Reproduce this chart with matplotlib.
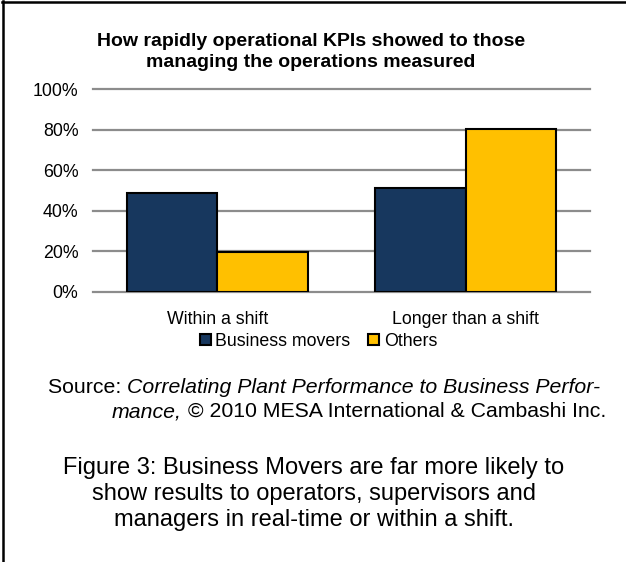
import matplotlib
matplotlib.use("Agg")
import matplotlib.pyplot as plt
import numpy as np
from matplotlib.lines import Line2D
from matplotlib.patches import Patch

plt.rcParams['font.family'] = ['Liberation Sans', 'DejaVu Sans']

categories = ["Within a shift", "Longer than a shift"]
business_movers = [49.0, 51.0]
others = [19.5, 80.5]
series_names = ["Business movers", "Others"]
yticks = [0, 20, 40, 60, 80, 100]

title_lines = ["How rapidly operational KPIs showed to those",
               "managing the operations measured"]
caption_lines = ["Figure 3: Business Movers are far more likely to",
                 "show results to operators, supervisors and",
                 "managers in real-time or within a shift."]

NAVY = "#17375E"
GOLD = "#FFC000"
GRID = "#8C8C8C"

W, H = 626, 562
def fx(px):
    return px / W
def fy(py):
    return 1 - py / H

fig = plt.figure(figsize=(W / 100, H / 100), dpi=100)
fig.patch.set_facecolor("white")

# plot area, in pixels: x 93..590, y 89..292
ax = fig.add_axes([fx(93), fy(292), fx(590) - fx(93), fy(89) - fy(292)])

x = np.arange(len(categories))
w = 0.364
ax.bar(x - w / 2, business_movers, w, color=NAVY, edgecolor="black", linewidth=1.5, zorder=3)
ax.bar(x + w / 2, others, w, color=GOLD, edgecolor="black", linewidth=1.5, zorder=3)

ax.set_xlim(-0.5, len(categories) - 0.5)
ax.set_ylim(0, 100)
ax.set_yticks(yticks)
ax.set_yticklabels([f"{v}%" for v in yticks])
ax.yaxis.grid(True, color=GRID, linewidth=1.6, zorder=0)
for gl in ax.get_ygridlines():
    gl.set_clip_on(False)
ax.set_axisbelow(True)
ax.set_xticks(x)
ax.set_xticklabels(categories)
ax.tick_params(axis="y", length=0, pad=10.5, labelsize=12.75, colors="black")
ax.tick_params(axis="x", length=0, pad=13.5, labelsize=12.75, colors="black")
for s in ax.spines.values():
    s.set_visible(False)

# title
fig.text(fx(311), fy(46), title_lines[0], ha="center", va="baseline", fontsize=14, fontweight="bold")
fig.text(fx(311), fy(67), title_lines[1], ha="center", va="baseline", fontsize=14, fontweight="bold")

# legend
handles = [Patch(facecolor=NAVY, edgecolor="black", linewidth=1.5, label=series_names[0]),
           Patch(facecolor=GOLD, edgecolor="black", linewidth=1.5, label=series_names[1])]
fig.legend(handles=handles, loc="center", bbox_to_anchor=(fx(318.5), fy(341)), ncol=2,
           frameon=False, fontsize=12.75, handlelength=0.62, handleheight=0.62,
           handletextpad=0.25, columnspacing=1.0, borderpad=0, borderaxespad=0)

# source, mixed upright / italic
src_fs = 15.3
t1 = fig.text(fx(48), fy(393), "Source: ", ha="left", va="baseline", fontsize=src_fs)
ax.annotate("Correlating Plant Performance to Business Perfor-", xy=(1, 0), xycoords=t1,
            ha="left", va="bottom", fontsize=src_fs, style="italic", annotation_clip=False)
t4 = fig.text(fx(606), fy(417), " \u00a9 2010 MESA International & Cambashi Inc.",
              ha="right", va="baseline", fontsize=src_fs)
ax.annotate("mance,", xy=(0, 0), xycoords=t4, ha="right", va="bottom",
            fontsize=src_fs, style="italic", annotation_clip=False)

# caption
for line, yb in zip(caption_lines, [474, 500, 526]):
    fig.text(fx(314), fy(yb), line, ha="center", va="baseline", fontsize=17)

# frame: top and left edges only
fig.add_artist(Line2D([fx(3), fx(3)], [0, fy(1)], transform=fig.transFigure, color="black", linewidth=1.8))
fig.add_artist(Line2D([fx(2), 1], [fy(2.2), fy(2.2)], transform=fig.transFigure, color="black", linewidth=1.8))

fig.savefig("out.png", dpi=100)
